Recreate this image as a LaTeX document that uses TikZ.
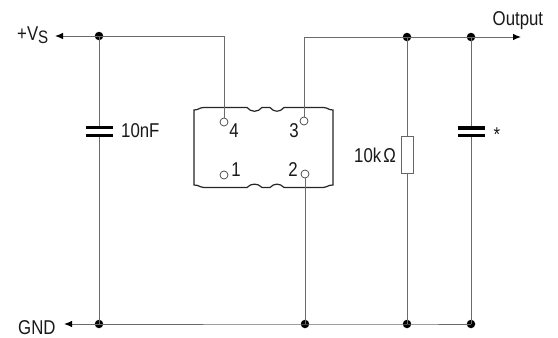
\documentclass[tikz,border=0pt]{standalone}
\usepackage{fontspec}
\setmainfont[FakeStretch=0.84]{Liberation Sans}
\usetikzlibrary{arrows.meta}
\definecolor{wirecol}{gray}{0.42}
\tikzset{
  x=1pt,y=-1pt,
  wire/.style={draw=wirecol,line width=1pt},
  arrowwire/.style={wire,-{Latex[length=8pt,width=6.5pt,color=black]}},
  jdot/.style={circle,fill=black,inner sep=0pt,minimum size=8.5pt},
  pin/.style={circle,draw=black!75,fill=white,line width=0.7pt,inner sep=0pt,minimum size=8pt},
  plate/.style={fill=black,inner sep=0pt,minimum height=3.6pt},
  res/.style={rectangle,draw=black!60,fill=white,line width=0.9pt,inner sep=0pt,minimum width=12pt,minimum height=37pt},
  lbl/.style={inner sep=0pt,anchor=base,font=\fontsize{20}{20}\selectfont,text=black!90},
  pic/.style={line width=1.2pt,draw=black!85}
}
\begin{document}
\begin{tikzpicture}
\useasboundingbox (0,0) rectangle (558,338);
\fill[white] (0,0) rectangle (558,338);
% package outline
\draw[pic] (194,110) -- (194,185) .. controls (199,185) and (199,187) .. (204,187.5) -- (247,187.5)
  .. controls (251,183) and (258,183) .. (262,187.5) -- (270,187.5)
  .. controls (274,183) and (280,183) .. (284,187.5) -- (323,187.5)
  .. controls (328,187) and (328,185) .. (333,185) -- (333,110)
  .. controls (328,110) and (328,107.5) .. (323,107.5) -- (284,107.5)
  .. controls (280,112.5) and (274,112.5) .. (270,107.5) -- (262,107.5)
  .. controls (258,112.5) and (251,112.5) .. (247,107.5) -- (204,107.5)
  .. controls (199,107.5) and (199,110) .. (194,110) -- cycle;
% pins
\node[pin] (p4) at (224,122) {};
\node[pin] (p3) at (304,121) {};
\node[pin] (p1) at (224,175) {};
\node[pin] (p2) at (305,174) {};
\node[lbl] (n4) at (234,137) {4};
\node[lbl] (n3) at (294,137) {3};
\node[lbl] (n1) at (236,176) {1};
\node[lbl] (n2) at (293,176) {2};
% junctions and ends
\coordinate (vs) at (55,36);
\coordinate (out) at (521,37);
\coordinate (gnd) at (64,324);
\coordinate (c4) at (224,36);
\coordinate (c3) at (304,37);
\node[jdot] (jv) at (99,36) {};
\node[jdot] (jo1) at (407,37) {};
\node[jdot] (jo2) at (471,37) {};
\node[jdot] (jg0) at (99,324) {};
\node[jdot] (jg1) at (305,324) {};
\node[jdot] (jg2) at (407,324) {};
\node[jdot] (jg3) at (471,324) {};
% wires
\draw[arrowwire] (jv.center) -- (vs);
\draw[wire] (jv.center) -- (c4) -- (p4);
\draw[wire] (p3) -- (c3) -- (jo1.center);
\draw[wire] (jo1.center) -- (jo2.center);
\draw[arrowwire] (jo2.center) -- (out);
\draw[arrowwire] (jg0.center) -- (gnd);
\draw[wire] (jg0.center) -- (jg1.center) -- (jg2.center) -- (jg3.center);
\draw[wire] (p2) -- (jg1.center);
\draw[wire] (jv.center) -- (jg0.center);
\draw[wire] (jo1.center) -- (jg2.center);
\draw[wire] (jo2.center) -- (jg3.center);
% capacitors
\node[plate,minimum width=26.5pt,fill=white,minimum height=8pt] (cgap1) at (99,131) {};
\node[plate,minimum width=26.5pt] (c1a) at (99.5,127.5) {};
\node[plate,minimum width=26.5pt] (c1b) at (99.5,135.5) {};
\node[plate,minimum width=27pt,fill=white,minimum height=8pt] (cgap2) at (471,131.5) {};
\node[plate,minimum width=27pt] (c2a) at (471,128) {};
\node[plate,minimum width=27pt] (c2b) at (471,135.5) {};
% resistor
\node[res] (r) at (407,154.5) {};
% labels
\node[lbl,anchor=base west] (tv) at (17,40) {+V\raisebox{-3pt}{\fontsize{18}{18}\selectfont S}};
\node[lbl,anchor=base west] (tg) at (18,334.5) {GND};
\node[lbl,anchor=base west] (to) at (492.5,25) {Output};
\node[lbl,anchor=base west] (tc) at (121,137) {10nF};
\node[lbl,anchor=base west] (tr) at (354,162) {10k\kern2ptΩ};
\node[lbl,anchor=base west] (ts) at (493.5,141.5) {*};
\end{tikzpicture}
\end{document}
